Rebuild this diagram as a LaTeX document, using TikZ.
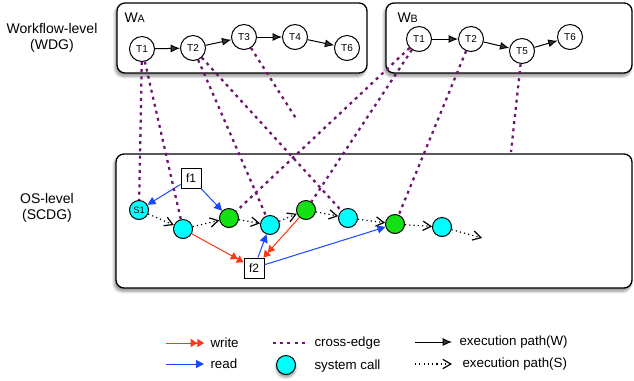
\documentclass[tikz,border=0pt]{standalone}
\usepackage{fontspec}
\setmainfont{Liberation Sans}
\usetikzlibrary{arrows.meta,shadows,shadows.blur}

\definecolor{crossc}{RGB}{110,20,110}
\definecolor{writec}{RGB}{255,55,20}
\definecolor{readc}{RGB}{25,70,255}
\definecolor{callc}{RGB}{0,255,255}
\definecolor{greenc}{RGB}{20,225,20}

\tikzset{every picture/.style={line width=0.75pt}}
\tikzset{
  levelbox/.style={draw,rounded corners=6pt,line width=1pt,fill=white,blur shadow={shadow xshift=-1.2pt,shadow yshift=-2.4pt,shadow blur steps=6,shadow opacity=45}},
  task/.style={draw,circle,fill=white,minimum size=18.75pt,inner sep=0pt,font=\fontsize{7.5}{9}\selectfont},
  scall/.style={draw,circle,fill=callc,minimum size=14.25pt,inner sep=0pt},
  ocall/.style={draw,circle,fill=greenc,minimum size=14.25pt,inner sep=0pt},
  file/.style={draw,fill=white,minimum size=15pt,inner sep=1pt,font=\fontsize{9}{10}\selectfont},
  cross/.style={draw=crossc,line width=1.7pt,dash pattern=on 2.2pt off 3.2pt},
  execw/.style={-{Latex[length=7pt,width=6pt]}},
  execs/.style={line width=0.9pt,dash pattern=on 0.9pt off 2.3pt,-{Straight Barb[length=6pt,width=7pt]}},
  wr/.style={writec,-{Triangle[length=5pt,width=6pt]Triangle[length=5pt,width=6pt]}},
  rd/.style={readc,-{Triangle[length=6pt,width=6pt]}},
  lbl/.style={font=\fontsize{10.5}{12.5}\selectfont,align=center},
  leg/.style={anchor=west,inner sep=0.75pt,font=\fontsize{10}{12}\selectfont},
}

\begin{document}
\begin{tikzpicture}[x=0.75pt,y=0.75pt,yscale=-1]
\useasboundingbox (0,0) rectangle (634,380);

%Rounded Rect
\draw [levelbox] (117,3) rectangle (367,73);
%Rounded Rect
\draw [levelbox] (386,3) rectangle (632,73);
%Rounded Rect
\draw [levelbox] (116,154) rectangle (632,288);

% Text Node
\node [lbl] (wlvl) at (52,38) {Workflow-level\\(WDG)};
% Text Node
\node [lbl] (olvl) at (47,208) {OS-level\\(SCDG)};
% Text Node
\node [anchor=west,inner sep=0.75pt,font=\fontsize{10.5}{12}\selectfont] (wa) at (123,18) {W{\fontsize{8}{9}\selectfont A}};
% Text Node
\node [anchor=west,inner sep=0.75pt,font=\fontsize{10.5}{12}\selectfont] (wb) at (396,18) {W{\fontsize{8}{9}\selectfont B}};

%Workflow A
\node [task] (a1) at (142,49) {T1};
\node [task] (a2) at (193,48) {T2};
\node [task] (a3) at (244,37) {T3};
\node [task] (a4) at (295,37) {T4};
\node [task] (a6) at (347,48) {T6};
%Workflow B
\node [task] (b1) at (419,39) {T1};
\node [task] (b2) at (471,39) {T2};
\node [task] (b5) at (522,51) {T5};
\node [task] (b6) at (570,37) {T6};

\draw [execw] (a1) -- (a2);
\draw [execw] (a2) -- (a3);
\draw [execw] (a3) -- (a4);
\draw [execw] (a4) -- (a6);
\draw [execw] (b1) -- (b2);
\draw [execw] (b2) -- (b5);
\draw [execw] (b5) -- (b6);

%System calls
\node [scall,font=\fontsize{7}{8}\selectfont] (s1) at (139,210) {S1};
\node [scall] (c2) at (183,229) {};
\node [ocall] (g3) at (229,218) {};
\node [scall] (c4) at (270,225) {};
\node [ocall] (g5) at (306,210) {};
\node [scall] (c6) at (348,218) {};
\node [ocall] (g7) at (395,224) {};
\node [scall] (c8) at (442,227) {};
\coordinate (send) at (482,238);
%Files
\node [file] (f1) at (191,178) {f1};
\node [file] (f2) at (254,268) {f2};

\draw [execs] (s1) -- (c2);
\draw [execs] (c2) -- (g3);
\draw [execs] (g3) -- (c4);
\draw [execs] (c4) -- (g5);
\draw [execs] (g5) -- (c6);
\draw [execs] (c6) -- (g7);
\draw [execs] (g7) -- (c8);
\draw [execs] (c8) -- (send);

\draw [rd] (f1) -- (s1);
\draw [rd] (f1) -- (g3);
\draw [wr] (c2) -- (f2);
\draw [rd] (f2) -- (c4);
\draw [wr] (g5) -- (f2);
\draw [rd] (f2) -- (g7);

%Cross edges
\coordinate (a3end) at (297,120);
\coordinate (b5end) at (511,152);
\draw [cross] (a1) -- (s1);
\draw [cross] (a1) -- (c2);
\draw [cross] (a2) -- (c4);
\draw [cross] (a2) -- (c6);
\draw [cross] (a3) -- (a3end);
\draw [cross] (b1) -- (g3);
\draw [cross] (b1) -- (g5);
\draw [cross] (b2) -- (g7);
\draw [cross] (b5) -- (b5end);

%Legend
\coordinate (lw1) at (166,343);
\coordinate (lw2) at (204,343);
\coordinate (lr1) at (166,364);
\coordinate (lr2) at (204,364);
\coordinate (lc1) at (273,343);
\coordinate (lc2) at (306,343);
\coordinate (le1) at (415,342);
\coordinate (le2) at (452,342);
\coordinate (ls1) at (415,364);
\coordinate (ls2) at (452,364);
\draw [wr] (lw1) -- (lw2);
\draw [rd] (lr1) -- (lr2);
\draw [cross] (lc1) -- (lc2);
\node [scall,blur shadow={shadow xshift=0pt,shadow yshift=-2pt,shadow blur steps=5,shadow opacity=45}] (lcall) at (286,365) {};
\draw [execw] (le1) -- (le2);
\draw [execs] (ls1) -- (ls2);

% Text Node
\node [leg] (twrite) at (209,343) {write};
\node [leg] (tread) at (209,364) {read};
\node [leg] (tcross) at (313,343) {cross-edge};
\node [leg] (tcall) at (313,366) {system call};
\node [leg] (texecw) at (458,342) {execution path(W)};
\node [leg] (texecs) at (461,364) {execution path(S)};

\end{tikzpicture}
\end{document}
